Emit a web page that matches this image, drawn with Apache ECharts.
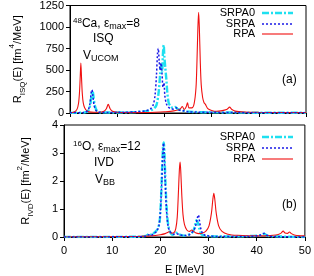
<!DOCTYPE html>
<html><head><meta charset="utf-8">
<script src="https://cdn.jsdelivr.net/npm/echarts@6/dist/echarts.min.js"></script>
<style>html,body{margin:0;padding:0;background:#fff}#c{width:314px;height:276px}</style>
</head><body><div id="c"></div>
<script>
// ---- data (E [MeV], strength) ----
const xTicks = [0, 10, 20, 30, 40, 50];
const isqYTicks = [0, 250, 500, 750, 1000, 1250];
const ivdYTicks = [0, 1, 2, 3, 4];

const isqRPA = [[0,0],[0.5,5],[1.0,15],[1.5,45],[1.8,110],[2.0,230],[2.15,400],[2.3,580],[2.45,400],[2.6,230],[2.8,120],[3.1,60],[3.6,25],[4.5,10],[6,8],[7.2,20],[7.7,50],[8.1,100],[8.5,50],[9,20],[10,8],[13,4],[16,5],[18,8],[20,14],[22,25],[23.3,45],[23.8,75],[24.2,40],[24.6,70],[24.9,120],[25.2,60],[25.8,60],[26.3,110],[26.7,300],[26.9,600],[27.1,1000],[27.25,1170],[27.4,1000],[27.6,600],[27.8,330],[28.1,180],[28.4,120],[28.7,100],[29.2,50],[30,30],[31,20],[32,25],[33.3,45],[33.8,68],[34.3,40],[35,22],[37,12],[40,8],[45,5],[50,4]];
const isqSRPA = [[0,2],[3,5],[3.8,30],[4.2,100],[4.5,240],[4.65,270],[4.85,200],[5.1,90],[5.5,30],[6,10],[8,5],[10,8],[12,10],[14,15],[16,25],[17,45],[17.6,90],[18.0,200],[18.3,420],[18.55,700],[18.7,750],[18.9,600],[19.1,500],[19.3,580],[19.5,450],[19.7,300],[19.9,350],[20.1,200],[20.4,110],[20.8,70],[21.3,50],[22,45],[22.5,60],[23,35],[24,25],[25,15],[27,10],[30,8],[35,5],[40,3],[50,2]];
const isqSRPA0 = [[0,2],[3,5],[3.9,30],[4.3,100],[4.6,220],[4.8,250],[5.0,180],[5.3,80],[5.7,25],[6.5,8],[10,6],[14,12],[16,20],[17.5,40],[18.3,90],[18.8,250],[19.1,450],[19.3,550],[19.5,480],[19.7,700],[19.85,790],[20.0,650],[20.2,520],[20.4,400],[20.6,250],[20.9,120],[21.3,80],[21.8,60],[22.3,70],[22.8,45],[23.5,35],[24.5,20],[26,12],[30,8],[35,5],[40,3],[50,2]];

const ivdRPA = [[0,0],[10,0.01],[15,0.02],[18,0.04],[20,0.08],[21,0.12],[21.6,0.17],[21.9,0.19],[22.3,0.14],[22.8,0.15],[23.2,0.3],[23.5,0.7],[23.75,1.6],[23.95,2.4],[24.1,2.68],[24.25,2.3],[24.45,1.5],[24.7,0.8],[25.0,0.45],[25.5,0.25],[26.1,0.2],[26.5,0.25],[26.8,0.22],[27.3,0.15],[28,0.12],[28.8,0.14],[29.5,0.22],[30.1,0.4],[30.6,0.85],[30.9,1.35],[31.1,1.56],[31.3,1.35],[31.6,0.85],[32.1,0.4],[32.8,0.2],[34,0.1],[36,0.06],[40,0.04],[44,0.07],[45.0,0.13],[45.5,0.21],[45.9,0.14],[46.4,0.13],[46.8,0.18],[47.2,0.12],[48,0.06],[50,0.04]];
const ivdSRPA = [[0,0],[15,0.01],[17,0.03],[17.6,0.08],[18,0.05],[18.6,0.12],[19.2,0.2],[19.7,0.4],[20.0,0.9],[20.3,2.0],[20.5,3.0],[20.65,3.35],[20.8,3.0],[21.0,2.0],[21.3,0.9],[21.6,0.4],[22,0.2],[22.6,0.1],[23.4,0.12],[24,0.08],[25,0.05],[26,0.08],[26.5,0.15],[27,0.25],[27.4,0.45],[27.7,0.7],[27.9,0.79],[28.1,0.6],[28.4,0.3],[28.8,0.12],[29.5,0.05],[32,0.02],[38,0.02],[40.5,0.05],[41.3,0.12],[41.6,0.13],[42,0.07],[43,0.02],[50,0]];
const ivdSRPA0 = [[0,0],[15,0.01],[17,0.04],[17.8,0.12],[18.2,0.06],[18.7,0.15],[19.3,0.25],[19.8,0.5],[20.1,1.2],[20.35,2.4],[20.55,3.2],[20.7,3.38],[20.85,3.0],[21.05,2.0],[21.35,0.9],[21.7,0.35],[22.1,0.15],[22.6,0.08],[23.3,0.15],[23.8,0.1],[25,0.05],[26.3,0.12],[26.8,0.2],[27.2,0.4],[27.5,0.6],[27.8,0.5],[28.1,0.3],[28.5,0.1],[29.5,0.04],[33,0.02],[40.5,0.05],[41.3,0.11],[41.7,0.1],[42.2,0.04],[50,0]];

const seriesNames = ['SRPA0', 'SRPA', 'RPA'];

// ---- chart ----
const FONT = 'Liberation Sans, Arial, sans-serif';
const styles = {
  SRPA0: {color: '#1ee0f0', width: 2.4, type: [7, 2, 2, 2]},
  SRPA:  {color: '#1a1ae6', width: 1.5, type: [2, 2]},
  RPA:   {color: '#f01010', width: 1.1, type: 'solid'}
};
function mk(name, data, idx) {
  return {name, type: 'line', data, xAxisIndex: idx, yAxisIndex: idx, showSymbol: false, symbol: 'none',
    smooth: 0.3, lineStyle: styles[name], itemStyle: {color: styles[name].color}, z: name === 'RPA' ? 3 : (name === 'SRPA' ? 4 : 2), animation: false};
}
const axisCommon = {
  axisLine: {show: true, lineStyle: {color: '#000', width: 1}},
  axisTick: {show: true, inside: false, length: 4, lineStyle: {color: '#000'}},
  splitLine: {show: false}
};
const lblStyle = {color: '#000', fontSize: 11, fontFamily: FONT, formatter: v => String(v)};
const rich = {
  sub: {fontSize: 8, fontFamily: FONT, color: '#000', verticalAlign: 'bottom', padding: [0,0,-4,0]},
  sup: {fontSize: 8, fontFamily: FONT, color: '#000', verticalAlign: 'top', padding: [-4,0,0,0]}
};
const chart = echarts.init(document.getElementById('c'), null, {renderer: 'canvas'});
function txt(x, y, text) {
  return {type: 'text', left: x, top: y, style: {text, fill: '#000', font: '12px ' + FONT, rich: {
    n: {fontSize: 12, fontFamily: FONT, color: '#000'},
    sub: {fontSize: 9, fontFamily: FONT, color: '#000', padding: [5, 0, 0, 0]},
    sup: {fontSize: 8, fontFamily: FONT, color: '#000', padding: [0, 0, 6, 0]}
  }}};
}
// hand-built legend (text + line samples)
function legendBlock(yRows) {
  const out = [];
  seriesNames.forEach((n, i) => {
    const y = yRows[i];
    out.push({type: 'text', x: 255, y: y, style: {text: n, fill: '#000', font: '11px ' + FONT, textAlign: 'right', textVerticalAlign: 'middle'}});
    const s = styles[n];
    out.push({type: 'line', shape: {x1: 262, y1: y, x2: 293, y2: y},
      style: {stroke: s.color, lineWidth: s.width, lineDash: Array.isArray(s.type) ? s.type : null}});
  });
  return out;
}
chart.setOption({
  animation: false,
  grid: [
    {left: 64, right: 8, top: 5, height: 108, show: true, borderColor: '#000', borderWidth: 1},
    {left: 64, right: 8, top: 125, height: 112, show: true, borderColor: '#000', borderWidth: 1}
  ],
  xAxis: [
    Object.assign({type: 'value', gridIndex: 0, min: xTicks[0], max: xTicks[xTicks.length-1], interval: 10,
      axisLabel: {show: false}}, axisCommon),
    Object.assign({type: 'value', gridIndex: 1, min: xTicks[0], max: xTicks[xTicks.length-1], interval: 10,
      axisLabel: Object.assign({margin: 8}, lblStyle),
      name: 'E [MeV]', nameLocation: 'middle', nameGap: 27, nameTextStyle: {fontSize: 11, fontFamily: FONT, color: '#000'}}, axisCommon)
  ],
  yAxis: [
    Object.assign({type: 'value', gridIndex: 0, min: isqYTicks[0], max: isqYTicks[isqYTicks.length-1], interval: 250,
      axisLabel: Object.assign({margin: 6}, lblStyle),
      name: 'R{sub|ISQ}(E) [fm{sup|4}/MeV]', nameLocation: 'middle', nameGap: 47,
      nameTextStyle: {fontSize: 11, fontFamily: FONT, color: '#000', rich}}, axisCommon),
    Object.assign({type: 'value', gridIndex: 1, min: ivdYTicks[0], max: ivdYTicks[ivdYTicks.length-1], interval: 1,
      axisLabel: Object.assign({margin: 6}, lblStyle),
      name: 'R{sub|IVD}(E) [fm{sup|2}/MeV]', nameLocation: 'middle', nameGap: 33,
      nameTextStyle: {fontSize: 11, fontFamily: FONT, color: '#000', rich}}, axisCommon)
  ],
  graphic: [
    txt(73, 17, '{sup|48}{n|Ca, ε}{sub|max}{n|=8}'),
    txt(93, 33, 'ISQ'),
    txt(83, 50, '{n|V}{sub|UCOM}'),
    txt(282, 74, '(a)'),
    txt(73, 140, '{sup|16}{n|O, ε}{sub|max}{n|=12}'),
    txt(94, 157, 'IVD'),
    txt(95, 174, '{n|V}{sub|BB}'),
    txt(282, 199, '(b)')
  ].concat(legendBlock([13, 24, 34])).concat(legendBlock([137, 148, 159])),
  series: [
    mk('SRPA0', isqSRPA0, 0), mk('SRPA', isqSRPA, 0), mk('RPA', isqRPA, 0),
    mk('SRPA0', ivdSRPA0, 1), mk('SRPA', ivdSRPA, 1), mk('RPA', ivdRPA, 1)
  ]
});
</script></body></html>
